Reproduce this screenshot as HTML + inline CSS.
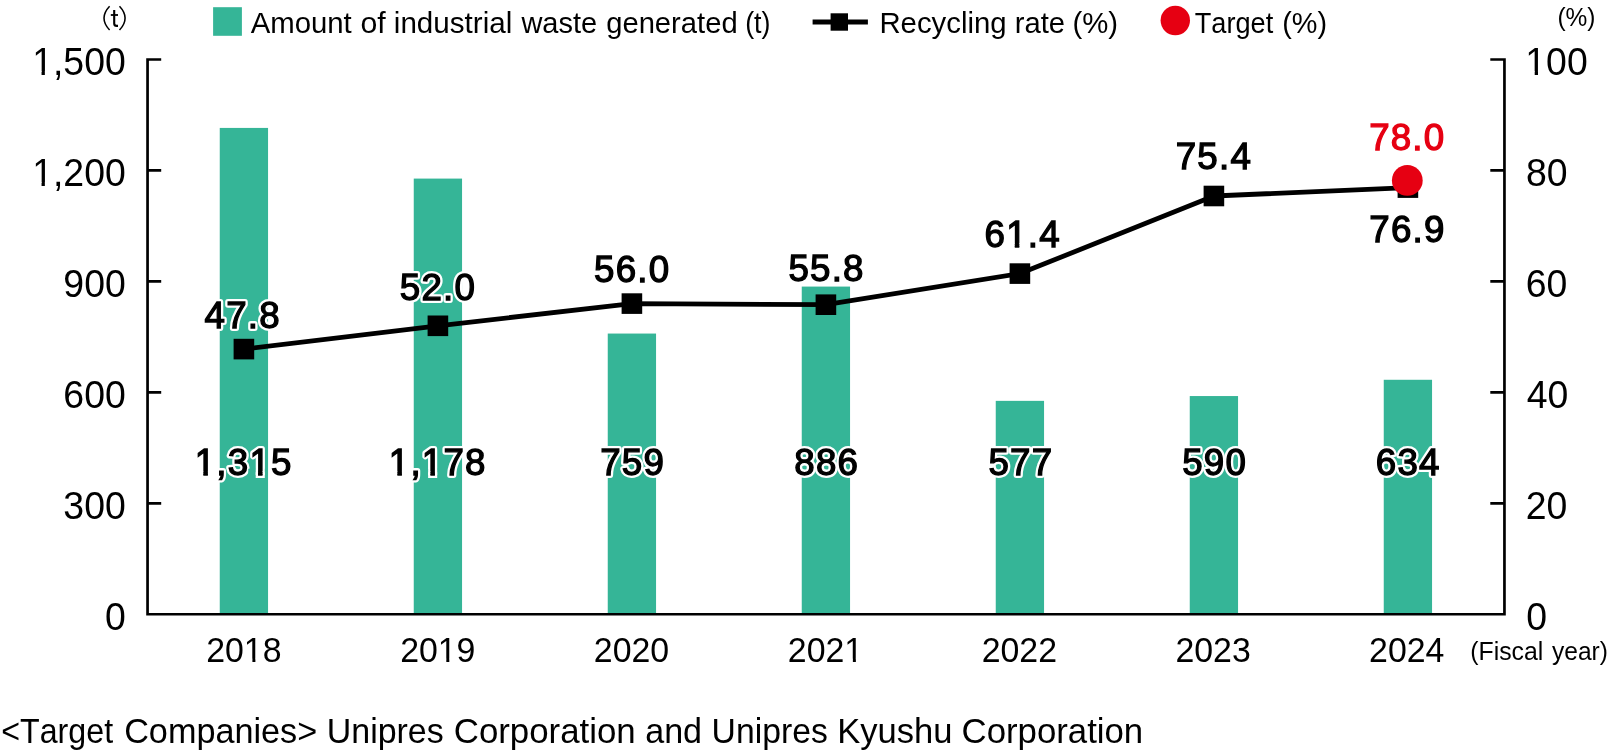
<!DOCTYPE html>
<html><head><meta charset="utf-8"><title>Industrial waste</title>
<style>
html,body{margin:0;padding:0;background:#fff;}
body{width:1608px;height:752px;overflow:hidden;font-family:"Liberation Sans",sans-serif;}
svg{display:block;font-family:"Liberation Sans",sans-serif;will-change:transform;font-kerning:none;}
text{fill:#000;white-space:pre;}
.h{stroke:#fff;stroke-width:5.9px;stroke-linejoin:round;fill:#fff;}
.d{stroke:#000;stroke-width:1.3px;stroke-linejoin:miter;stroke-miterlimit:3;}
.r{stroke:#e60012;stroke-width:1.3px;stroke-linejoin:miter;stroke-miterlimit:3;fill:#e60012;}
</style></head><body>
<svg width="1608" height="752" viewBox="0 0 1608 752">
<rect width="1608" height="752" fill="#fff"/>
<rect x="219.75" y="127.92" width="48.3" height="486.33" fill="#35b597"/>
<rect x="413.75" y="178.59" width="48.3" height="435.66" fill="#35b597"/>
<rect x="607.75" y="333.55" width="48.3" height="280.70" fill="#35b597"/>
<rect x="801.75" y="286.58" width="48.3" height="327.67" fill="#35b597"/>
<rect x="995.75" y="400.86" width="48.3" height="213.39" fill="#35b597"/>
<rect x="1189.75" y="396.05" width="48.3" height="218.20" fill="#35b597"/>
<rect x="1383.75" y="379.78" width="48.3" height="234.47" fill="#35b597"/>
<path d="M161.2 59.5H147.55V614.25H1504.45V59.5H1490.3" fill="none" stroke="#000" stroke-width="2.7" stroke-linejoin="miter"/>
<path d="M147.5 170.45H161.2M1504.5 170.45H1490.3" stroke="#000" stroke-width="2.7" fill="none"/>
<path d="M147.5 281.40H161.2M1504.5 281.40H1490.3" stroke="#000" stroke-width="2.7" fill="none"/>
<path d="M147.5 392.35H161.2M1504.5 392.35H1490.3" stroke="#000" stroke-width="2.7" fill="none"/>
<path d="M147.5 503.30H161.2M1504.5 503.30H1490.3" stroke="#000" stroke-width="2.7" fill="none"/>
<clipPath id="c1" clipPathUnits="userSpaceOnUse"><path clip-rule="evenodd" d="M-20 -60H118.8V30H-20ZM2.01 -3.55H9.93V1.00H2.01ZM13.42 -3.55H21.04V1.00H13.42Z"/></clipPath>
<text clip-path="url(#c1)" transform="translate(32.15 74.90) scale(0.9470 1)" font-size="39.5" text-anchor="start" >1,500</text>
<clipPath id="c2" clipPathUnits="userSpaceOnUse"><path clip-rule="evenodd" d="M-20 -60H85.9V30H-20ZM2.01 -3.55H9.93V1.00H2.01ZM13.42 -3.55H21.04V1.00H13.42Z"/></clipPath>
<text clip-path="url(#c2)" transform="translate(1525.30 74.90) scale(0.9470 1)" font-size="39.5" text-anchor="start" >100</text>
<clipPath id="c3" clipPathUnits="userSpaceOnUse"><path clip-rule="evenodd" d="M-20 -60H118.8V30H-20ZM2.01 -3.55H9.93V1.00H2.01ZM13.42 -3.55H21.04V1.00H13.42Z"/></clipPath>
<text clip-path="url(#c3)" transform="translate(32.15 185.85) scale(0.9470 1)" font-size="39.5" text-anchor="start" >1,200</text>
<text transform="translate(1525.97 185.85) scale(0.9470 1)" font-size="39.5" text-anchor="start" >80</text>
<text transform="translate(63.35 296.80) scale(0.9470 1)" font-size="39.5" text-anchor="start" >900</text>
<text transform="translate(1525.70 296.80) scale(0.9470 1)" font-size="39.5" text-anchor="start" >60</text>
<text transform="translate(63.35 407.75) scale(0.9470 1)" font-size="39.5" text-anchor="start" >600</text>
<text transform="translate(1526.74 407.75) scale(0.9470 1)" font-size="39.5" text-anchor="start" >40</text>
<text transform="translate(63.35 518.70) scale(0.9470 1)" font-size="39.5" text-anchor="start" >300</text>
<text transform="translate(1525.72 518.70) scale(0.9470 1)" font-size="39.5" text-anchor="start" >20</text>
<text transform="translate(104.96 629.65) scale(0.9470 1)" font-size="39.5" text-anchor="start" >0</text>
<text transform="translate(1526.14 629.65) scale(0.9470 1)" font-size="39.5" text-anchor="start" >0</text>
<clipPath id="c4" clipPathUnits="userSpaceOnUse"><path clip-rule="evenodd" d="M-20 -60H98.3V30H-20ZM40.83 -3.23H48.00V1.00H40.83ZM51.12 -3.23H58.01V1.00H51.12Z"/></clipPath>
<text clip-path="url(#c4)" transform="translate(206.22 662.00) scale(0.9620 1)" font-size="35.2" text-anchor="start" >2018</text>
<clipPath id="c5" clipPathUnits="userSpaceOnUse"><path clip-rule="evenodd" d="M-20 -60H98.3V30H-20ZM40.83 -3.23H48.00V1.00H40.83ZM51.12 -3.23H58.01V1.00H51.12Z"/></clipPath>
<text clip-path="url(#c5)" transform="translate(400.14 662.00) scale(0.9620 1)" font-size="35.2" text-anchor="start" >2019</text>
<text transform="translate(593.84 662.00) scale(0.9620 1)" font-size="35.2" text-anchor="start" >2020</text>
<clipPath id="c6" clipPathUnits="userSpaceOnUse"><path clip-rule="evenodd" d="M-20 -60H98.3V30H-20ZM60.41 -3.23H67.58V1.00H60.41ZM70.69 -3.23H77.59V1.00H70.69Z"/></clipPath>
<text clip-path="url(#c6)" transform="translate(787.86 662.00) scale(0.9620 1)" font-size="35.2" text-anchor="start" >2021</text>
<text transform="translate(981.73 662.00) scale(0.9620 1)" font-size="35.2" text-anchor="start" >2022</text>
<text transform="translate(1175.48 662.00) scale(0.9620 1)" font-size="35.2" text-anchor="start" >2023</text>
<text transform="translate(1369.08 662.00) scale(0.9620 1)" font-size="35.2" text-anchor="start" >2024</text>
<text transform="translate(1470.26 659.60) scale(0.9931 1)" font-size="25" text-anchor="start" >(Fiscal</text>
<text transform="translate(1551.99 659.60) scale(0.9829 1)" font-size="25" text-anchor="start" >year)</text>
<text transform="translate(1557.38 25.60) scale(0.9618 1)" font-size="25.5" text-anchor="start" >(%)</text>
<g fill="none" stroke="#000" stroke-linecap="butt"><path d="M109.6 6.2Q98.4 18.1 109.6 30" stroke-width="1.5"/><path d="M119.5 6.2Q130.7 18.1 119.5 30" stroke-width="1.5"/><path d="M114.2 10V23.4Q114.2 25.9 116.8 25.9H118" stroke-width="2.1"/><path d="M110.8 15H118" stroke-width="1.8"/></g>
<rect x="213.1" y="7.2" width="28.8" height="28.6" fill="#35b597"/>
<text transform="translate(250.64 32.60) scale(1.0019 1)" font-size="29.3" text-anchor="start" >Amount</text>
<text transform="translate(360.43 32.60) scale(1.0323 1)" font-size="29.3" text-anchor="start" >of</text>
<text transform="translate(393.82 32.60) scale(1.0103 1)" font-size="29.3" text-anchor="start" >industrial</text>
<text transform="translate(521.44 32.60) scale(0.9896 1)" font-size="29.3" text-anchor="start" >waste</text>
<text transform="translate(606.17 32.60) scale(0.9965 1)" font-size="29.3" text-anchor="start" >generated</text>
<text transform="translate(745.14 32.60) scale(0.9159 1)" font-size="29.3" text-anchor="start" >(t)</text>
<text transform="translate(879.39 32.60) scale(1.0014 1)" font-size="29.3" text-anchor="start" >Recycling</text>
<text transform="translate(1014.66 32.60) scale(0.9970 1)" font-size="29.3" text-anchor="start" >rate</text>
<text transform="translate(1072.48 32.60) scale(1.0016 1)" font-size="29.3" text-anchor="start" >(%)</text>
<text transform="translate(1194.69 32.60) scale(0.9283 1)" font-size="29.3" text-anchor="start" >Target</text>
<text transform="translate(1282.21 32.60) scale(0.9849 1)" font-size="29.3" text-anchor="start" >(%)</text>
<path d="M812.6 22H867.9" stroke="#000" stroke-width="5"/><rect x="830.6" y="13.3" width="17.4" height="17.4" fill="#000"/>
<circle cx="1175.3" cy="20.5" r="14.7" fill="#e60012"/>
<polyline points="243.9,349.1 437.9,325.8 631.9,303.6 825.9,304.7 1019.9,273.6 1213.9,196.0 1407.9,187.6" fill="none" stroke="#000" stroke-width="4.8" stroke-linejoin="round"/>
<rect x="233.6" y="338.8" width="20.6" height="20.6" fill="#000"/>
<rect x="427.6" y="315.5" width="20.6" height="20.6" fill="#000"/>
<rect x="621.6" y="293.3" width="20.6" height="20.6" fill="#000"/>
<rect x="815.6" y="294.4" width="20.6" height="20.6" fill="#000"/>
<rect x="1009.6" y="263.3" width="20.6" height="20.6" fill="#000"/>
<rect x="1203.6" y="185.7" width="20.6" height="20.6" fill="#000"/>
<rect x="1397.6" y="177.3" width="20.6" height="20.6" fill="#000"/>
<circle cx="1407.3" cy="180.4" r="15.4" fill="#e60012"/>
<text class="h" transform="translate(204.59 328.30) scale(0.9930 1)" font-size="37.0" text-anchor="start"  letter-spacing="1.2">47.8</text>
<text class="d" transform="translate(204.59 328.30) scale(0.9930 1)" font-size="37.0" text-anchor="start"  letter-spacing="1.2">47.8</text>
<text class="h" transform="translate(399.84 299.50) scale(0.9930 1)" font-size="37.0" text-anchor="start"  letter-spacing="1.2">52.0</text>
<text class="d" transform="translate(399.84 299.50) scale(0.9930 1)" font-size="37.0" text-anchor="start"  letter-spacing="1.2">52.0</text>
<text class="h" transform="translate(594.04 281.60) scale(0.9930 1)" font-size="37.0" text-anchor="start"  letter-spacing="1.2">56.0</text>
<text class="d" transform="translate(594.04 281.60) scale(0.9930 1)" font-size="37.0" text-anchor="start"  letter-spacing="1.2">56.0</text>
<text class="h" transform="translate(788.47 280.60) scale(0.9930 1)" font-size="37.0" text-anchor="start"  letter-spacing="1.2">55.8</text>
<text class="d" transform="translate(788.47 280.60) scale(0.9930 1)" font-size="37.0" text-anchor="start"  letter-spacing="1.2">55.8</text>
<clipPath id="c7" clipPathUnits="userSpaceOnUse"><path clip-rule="evenodd" d="M-20 -60H96.8V30H-20ZM20.65 -6.31H28.13V3.95H20.65ZM37.30 -6.31H44.50V3.95H37.30Z"/></clipPath>
<text class="h" clip-path="url(#c7)" transform="translate(984.56 247.10) scale(0.9930 1)" font-size="37.0" text-anchor="start"  letter-spacing="1.2">61.4</text>
<clipPath id="c8" clipPathUnits="userSpaceOnUse"><path clip-rule="evenodd" d="M-20 -60H96.8V30H-20ZM22.95 -4.01H30.43V1.65H22.95ZM35.00 -4.01H42.20V1.65H35.00Z"/></clipPath>
<text class="d" clip-path="url(#c8)" transform="translate(984.56 247.10) scale(0.9930 1)" font-size="37.0" text-anchor="start"  letter-spacing="1.2">61.4</text>
<text class="h" transform="translate(1175.75 169.20) scale(0.9930 1)" font-size="37.0" text-anchor="start"  letter-spacing="1.2">75.4</text>
<text class="d" transform="translate(1175.75 169.20) scale(0.9930 1)" font-size="37.0" text-anchor="start"  letter-spacing="1.2">75.4</text>
<text class="h" transform="translate(1369.29 242.00) scale(0.9930 1)" font-size="37.0" text-anchor="start"  letter-spacing="1.2">76.9</text>
<text class="d" transform="translate(1369.29 242.00) scale(0.9930 1)" font-size="37.0" text-anchor="start"  letter-spacing="1.2">76.9</text>
<text class="h" transform="translate(1369.13 150.30) scale(0.9930 1)" font-size="37.0" text-anchor="start"  letter-spacing="1.2">78.0</text>
<text class="r" transform="translate(1369.13 150.30) scale(0.9930 1)" font-size="37.0" text-anchor="start"  letter-spacing="1.2">78.0</text>
<clipPath id="c9" clipPathUnits="userSpaceOnUse"><path clip-rule="evenodd" d="M-20 -60H118.6V30H-20ZM-1.13 -6.31H6.35V3.95H-1.13ZM15.52 -6.31H22.72V3.95H15.52ZM53.90 -6.31H61.39V3.95H53.90ZM70.56 -6.31H77.76V3.95H70.56Z"/></clipPath>
<text class="h" clip-path="url(#c9)" transform="translate(194.75 475.10) scale(0.9930 1)" font-size="37.0" text-anchor="start"  letter-spacing="1.2">1,315</text>
<clipPath id="c10" clipPathUnits="userSpaceOnUse"><path clip-rule="evenodd" d="M-20 -60H118.6V30H-20ZM1.17 -4.01H8.65V1.65H1.17ZM13.22 -4.01H20.42V1.65H13.22ZM56.20 -4.01H63.69V1.65H56.20ZM68.26 -4.01H75.46V1.65H68.26Z"/></clipPath>
<text class="d" clip-path="url(#c10)" transform="translate(194.75 475.10) scale(0.9930 1)" font-size="37.0" text-anchor="start"  letter-spacing="1.2">1,315</text>
<clipPath id="c11" clipPathUnits="userSpaceOnUse"><path clip-rule="evenodd" d="M-20 -60H118.6V30H-20ZM-1.13 -6.31H6.35V3.95H-1.13ZM15.52 -6.31H22.72V3.95H15.52ZM32.13 -6.31H39.61V3.95H32.13ZM48.78 -6.31H55.98V3.95H48.78Z"/></clipPath>
<text class="h" clip-path="url(#c11)" transform="translate(388.78 475.10) scale(0.9930 1)" font-size="37.0" text-anchor="start"  letter-spacing="1.2">1,178</text>
<clipPath id="c12" clipPathUnits="userSpaceOnUse"><path clip-rule="evenodd" d="M-20 -60H118.6V30H-20ZM1.17 -4.01H8.65V1.65H1.17ZM13.22 -4.01H20.42V1.65H13.22ZM34.43 -4.01H41.91V1.65H34.43ZM46.48 -4.01H53.68V1.65H46.48Z"/></clipPath>
<text class="d" clip-path="url(#c12)" transform="translate(388.78 475.10) scale(0.9930 1)" font-size="37.0" text-anchor="start"  letter-spacing="1.2">1,178</text>
<text class="h" transform="translate(600.19 475.10) scale(0.9930 1)" font-size="37.0" text-anchor="start"  letter-spacing="1.2">759</text>
<text class="d" transform="translate(600.19 475.10) scale(0.9930 1)" font-size="37.0" text-anchor="start"  letter-spacing="1.2">759</text>
<text class="h" transform="translate(794.27 475.10) scale(0.9930 1)" font-size="37.0" text-anchor="start"  letter-spacing="1.2">886</text>
<text class="d" transform="translate(794.27 475.10) scale(0.9930 1)" font-size="37.0" text-anchor="start"  letter-spacing="1.2">886</text>
<text class="h" transform="translate(988.45 475.10) scale(0.9930 1)" font-size="37.0" text-anchor="start"  letter-spacing="1.2">577</text>
<text class="d" transform="translate(988.45 475.10) scale(0.9930 1)" font-size="37.0" text-anchor="start"  letter-spacing="1.2">577</text>
<text class="h" transform="translate(1182.24 475.10) scale(0.9930 1)" font-size="37.0" text-anchor="start"  letter-spacing="1.2">590</text>
<text class="d" transform="translate(1182.24 475.10) scale(0.9930 1)" font-size="37.0" text-anchor="start"  letter-spacing="1.2">590</text>
<text class="h" transform="translate(1375.86 475.10) scale(0.9930 1)" font-size="37.0" text-anchor="start"  letter-spacing="1.2">634</text>
<text class="d" transform="translate(1375.86 475.10) scale(0.9930 1)" font-size="37.0" text-anchor="start"  letter-spacing="1.2">634</text>
<text transform="translate(1.21 743.00) scale(0.9393 1)" font-size="34.3" text-anchor="start" >&lt;Target</text>
<text transform="translate(124.16 743.00) scale(0.9979 1)" font-size="34.3" text-anchor="start" >Companies&gt;</text>
<text transform="translate(326.78 743.00) scale(0.9895 1)" font-size="34.3" text-anchor="start" >Unipres</text>
<text transform="translate(453.73 743.00) scale(1.0157 1)" font-size="34.3" text-anchor="start" >Corporation</text>
<text transform="translate(645.15 743.00) scale(0.9951 1)" font-size="34.3" text-anchor="start" >and</text>
<text transform="translate(711.60 743.00) scale(0.9833 1)" font-size="34.3" text-anchor="start" >Unipres</text>
<text transform="translate(837.27 743.00) scale(1.0072 1)" font-size="34.3" text-anchor="start" >Kyushu</text>
<text transform="translate(961.53 743.00) scale(1.0140 1)" font-size="34.3" text-anchor="start" >Corporation</text>
</svg></body></html>
